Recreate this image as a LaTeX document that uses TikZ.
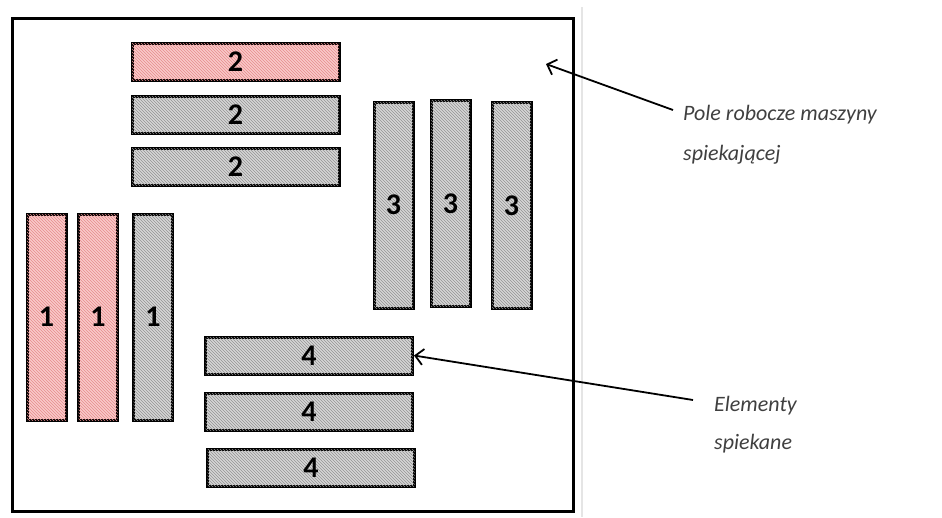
\documentclass[tikz,border=0pt]{standalone}
\usepackage{fontspec}
\setmainfont{Carlito}
\usetikzlibrary{patterns,arrows.meta}

\definecolor{barGray}{HTML}{D6D6D6}
\definecolor{hatchGray}{HTML}{939393}
\definecolor{barPink}{HTML}{F9CACA}
\definecolor{hatchPink}{HTML}{E68C8C}
\definecolor{noteGray}{HTML}{404040}

\tikzset{
  part/.style={draw=black, line width=3pt, inner sep=0pt,
    font=\fontsize{30}{30}\selectfont\bfseries},
  graypart/.style={part, fill=barGray,
    postaction={pattern=north west lines, pattern color=hatchGray}},
  pinkpart/.style={part, fill=barPink,
    postaction={pattern=north west lines, pattern color=hatchPink}},
  hbar/.style={minimum width=207pt, minimum height=37pt},
  vbar/.style={minimum width=39pt, minimum height=206pt},
  note/.style={anchor=base west, inner sep=0pt, text=noteGray,
    font=\fontsize{22}{22}\selectfont\itshape},
  pointer/.style={line width=1.8pt, -{Straight Barb[length=8pt,width=16pt,line width=1.8pt]}},
}

\begin{document}
\begin{tikzpicture}[x=1pt,y=-1pt]
  \useasboundingbox (0,0) rectangle (942,517);

  % faint page edge and the working area of the machine
  \draw[black!10, line width=1.5pt] (582,7) -- (582,517);
  \draw[line width=3pt] (12,18) rectangle (573,511);

  % group 1: vertical parts on the left
  \node[pinkpart, vbar] (p1a) at (46.5,317) {1};
  \node[pinkpart, vbar] (p1b) at (98,317) {1};
  \node[graypart, vbar] (p1c) at (153,317) {1};

  % group 2: horizontal parts at the top
  \node[pinkpart, hbar] (p2a) at (235.5,61.5) {2};
  \node[graypart, hbar] (p2b) at (235.5,114.5) {2};
  \node[graypart, hbar] (p2c) at (235.5,166.5) {2};

  % group 3: vertical parts on the right
  \node[graypart, vbar] (p3a) at (393.5,205) {3};
  \node[graypart, vbar] (p3b) at (450.5,203.5) {3};
  \node[graypart, vbar] (p3c) at (511.5,205.5) {3};

  % group 4: horizontal parts at the bottom
  \node[graypart, hbar] (p4a) at (309,355.5) {4};
  \node[graypart, hbar] (p4b) at (309,411.5) {4};
  \node[graypart, hbar] (p4c) at (311,467.5) {4};

  % annotations
  \node[note] (poleA) at (683,120) {Pole robocze maszyny};
  \node[note] (poleB) at (683,160) {spiekającej};
  \node[note] (elemA) at (714,411) {Elementy};
  \node[note] (elemB) at (714,449) {spiekane};

  \coordinate (poleTail) at (673,110);
  \coordinate (poleTip) at (546,64);
  \coordinate (elemTail) at (693,400);

  \draw[pointer] (poleTail) -- (poleTip);
  \draw[pointer] (elemTail) -- (p4a.east);
\end{tikzpicture}
\end{document}
